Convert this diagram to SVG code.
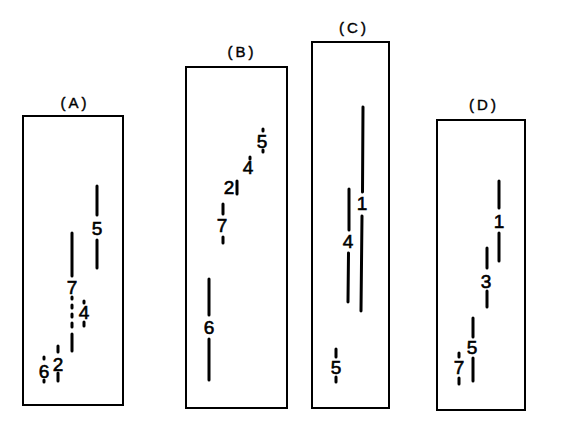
<svg xmlns="http://www.w3.org/2000/svg" width="568" height="437" viewBox="0 0 568 437">
<style>
.box{fill:none;stroke:#000;stroke-width:2}
.b{stroke:#000;stroke-width:3;stroke-linecap:round;fill:none}
.n{font-family:"Liberation Sans",Arial,sans-serif;font-size:19px;fill:#000;stroke:#000;stroke-width:0.6;text-anchor:middle}
.t{font-family:"Liberation Sans",Arial,sans-serif;font-size:15px;fill:#000;stroke:#000;stroke-width:0.4;text-anchor:middle;letter-spacing:3px}
</style>
<rect width="568" height="437" fill="#fff"/>
<g id="panelA">
<text class="t" x="75" y="108">(A)</text>
<rect class="box" x="23" y="116" width="100" height="289"/>
<line class="b" x1="97" y1="186" x2="97" y2="215"/>
<line class="b" x1="97" y1="240" x2="97" y2="268"/>
<text class="n" x="97" y="235">5</text>
<line class="b" x1="72" y1="233" x2="72" y2="276"/>
<text class="n" x="72" y="294">7</text>
<line class="b" x1="72" y1="297" x2="72" y2="299"/>
<line class="b" x1="72" y1="305" x2="72" y2="308"/>
<line class="b" x1="72" y1="314" x2="72" y2="317"/>
<line class="b" x1="72" y1="323" x2="72" y2="327"/>
<line class="b" x1="72" y1="334" x2="72" y2="351"/>
<line class="b" x1="84" y1="301" x2="84" y2="303"/>
<text class="n" x="84" y="319">4</text>
<line class="b" x1="84" y1="322" x2="84" y2="326"/>
<line class="b" x1="58" y1="346" x2="58" y2="352"/>
<text class="n" x="58" y="371">2</text>
<line class="b" x1="58" y1="373" x2="58" y2="381"/>
<line class="b" x1="44" y1="357" x2="44" y2="359"/>
<text class="n" x="44" y="378">6</text>
<line class="b" x1="44" y1="380" x2="44" y2="382"/>
</g>
<g id="panelB">
<text class="t" x="242" y="57">(B)</text>
<rect class="box" x="186" y="67" width="101" height="341"/>
<line class="b" x1="263" y1="129" x2="263" y2="131"/>
<text class="n" x="262" y="148">5</text>
<line class="b" x1="263" y1="150" x2="263" y2="152"/>
<line class="b" x1="250" y1="157" x2="250" y2="159"/>
<text class="n" x="248" y="174">4</text>
<text class="n" x="229" y="194">2</text>
<line class="b" x1="237" y1="181" x2="237" y2="194"/>
<line class="b" x1="223" y1="204" x2="223" y2="214"/>
<text class="n" x="222" y="232">7</text>
<line class="b" x1="223" y1="237" x2="223" y2="243"/>
<line class="b" x1="209" y1="279" x2="209" y2="315"/>
<text class="n" x="209" y="334">6</text>
<line class="b" x1="209" y1="339" x2="209" y2="380"/>
</g>
<g id="panelC">
<text class="t" x="354" y="33">(C)</text>
<rect class="box" x="312" y="42" width="77" height="366"/>
<line class="b" x1="363" y1="107" x2="362.5" y2="192"/>
<text class="n" x="362" y="210">1</text>
<line class="b" x1="362" y1="216" x2="361" y2="311"/>
<line class="b" x1="349" y1="189" x2="349" y2="230"/>
<text class="n" x="348" y="248">4</text>
<line class="b" x1="348.5" y1="253" x2="348" y2="302"/>
<line class="b" x1="336" y1="349" x2="336" y2="357"/>
<text class="n" x="336" y="374">5</text>
<line class="b" x1="336" y1="377" x2="336" y2="382"/>
</g>
<g id="panelD">
<text class="t" x="484" y="110">(D)</text>
<rect class="box" x="437" y="120" width="88" height="290"/>
<line class="b" x1="499" y1="181" x2="499" y2="208"/>
<text class="n" x="499" y="228">1</text>
<line class="b" x1="499" y1="233" x2="499" y2="261"/>
<line class="b" x1="487" y1="248" x2="487" y2="268"/>
<text class="n" x="486" y="288">3</text>
<line class="b" x1="487" y1="291" x2="487" y2="307"/>
<line class="b" x1="473" y1="318" x2="473" y2="337"/>
<text class="n" x="472" y="354">5</text>
<line class="b" x1="473" y1="358" x2="473" y2="381"/>
<line class="b" x1="459" y1="353" x2="459" y2="357"/>
<text class="n" x="459" y="374">7</text>
<line class="b" x1="459" y1="378" x2="459" y2="384"/>
</g>
</svg>
